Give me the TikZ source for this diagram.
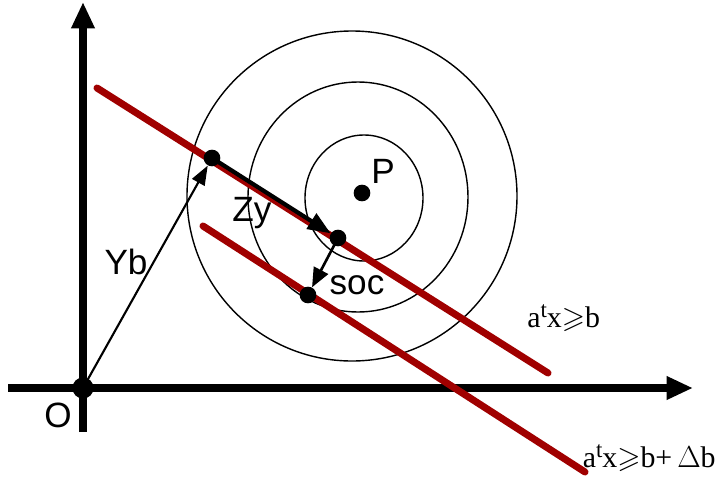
\documentclass[tikz,border=0pt]{standalone}
\usepackage{amssymb}
\usepackage{fontspec}
\setmainfont{Liberation Serif}
\setsansfont{Liberation Sans}
\usetikzlibrary{arrows.meta}
\definecolor{darkred}{RGB}{160,0,0}
\newcommand{\supt}{\raisebox{6pt}{\fontsize{13}{13}\selectfont t}}
\tikzset{
  dot/.style={circle,fill=black,inner sep=0pt,minimum size=9.5pt},
  lbl/.style={font=\sffamily\fontsize{20}{20}\selectfont,inner sep=0pt},
  cons/.style={font=\fontsize{17}{17}\selectfont,inner sep=0pt},
  redline/.style={darkred,line width=4pt,line cap=round},
  arrowtip/.style 2 args={-{Triangle[length=#1,width=#2]}}
}
\begin{document}
\begin{tikzpicture}[x=0.02cm,y=-0.02cm]
            \useasboundingbox (0,0) rectangle (721,487);
            % level sets
            \draw[line width=0.8pt] (352,196) ellipse [x radius=165,y radius=165];
            \draw[line width=0.8pt] (358,197) ellipse [x radius=110,y radius=115];
            \draw[line width=0.8pt] (364,198) ellipse [x radius=59,y radius=63];
            % axes
            \draw[line width=4pt,arrowtip={15pt}{12.5pt}] (83,432) -- (83,2);
            \draw[line width=4pt,arrowtip={15pt}{12.5pt}] (8,388) -- (693,388);
            % constraints
            \coordinate (c1s) at (97,88);
            \coordinate (c1e) at (548,373);
            \coordinate (c2s) at (203,226);
            \coordinate (c2e) at (585,472);
            \draw[redline] (c1s) -- (c1e);
            \draw[redline] (c2s) -- (c2e);
            % points
            \node[dot,minimum width=10.5pt,minimum height=12pt] (O) at (83,388) {};
            \node[dot] (A) at (212,158) {};
            \node[dot] (B) at (338,238) {};
            \node[dot] (C) at (308,295) {};
            \node[dot] (P) at (362,193) {};
            \draw[line width=1.2pt,arrowtip={11pt}{8pt}] (O.center) -- (A);
            \draw[line width=2.4pt,arrowtip={13pt}{10pt}] (A.center) -- (B);
            \draw[line width=1.5pt,arrowtip={11pt}{9pt}] (B.center) -- (C);
            % labels
            \node[lbl] (lO) at (58,415) {O};
            \node[lbl] (lP) at (383,171) {P};
            \node[lbl] (lYb) at (126,262) {Yb};
            \node[lbl] (lZy) at (252,213) {Zy};
            \node[lbl] (lsoc) at (357,285) {soc};
            \node[cons,anchor=west] (lc1) at (527,318) {a\supt x$\geqslant$b};
            \node[cons,anchor=east] (lc2) at (716,458) {a\supt x$\geqslant$b+\,$\Delta$b};
        \end{tikzpicture}
\end{document}
